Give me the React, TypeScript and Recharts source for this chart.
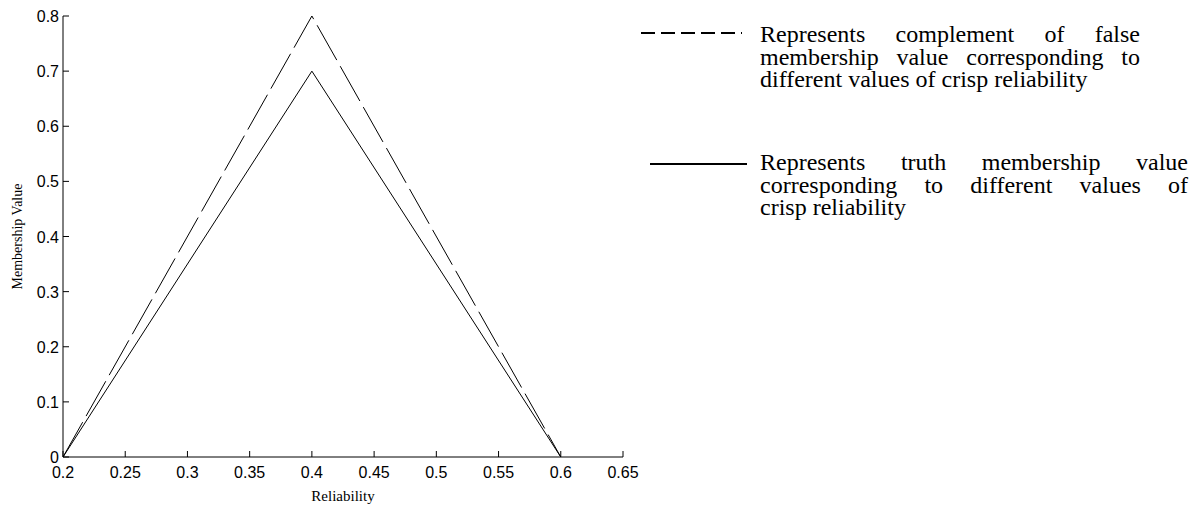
import { LineChart, Line, XAxis, YAxis } from "recharts";

const reliability = [0.2, 0.4, 0.6];
const truthValues = [0, 0.7, 0];
const falseComplementValues = [0, 0.8, 0];
const xTicks = [0.2, 0.25, 0.3, 0.35, 0.4, 0.45, 0.5, 0.55, 0.6, 0.65];
const yTicks = [0, 0.1, 0.2, 0.3, 0.4, 0.5, 0.6, 0.7, 0.8];

const falseLegendLines = [
  "Represents complement of false",
  "membership value corresponding to",
  "different values of crisp reliability",
];
const truthLegendLines = [
  "Represents truth membership value",
  "corresponding to different values of",
  "crisp reliability",
];

const truthData = reliability.map((r, i) => ({ x: r, y: truthValues[i] }));
const falseData = reliability.map((r, i) => ({ x: r, y: falseComplementValues[i] }));

const tickFont = { fontFamily: "'Liberation Sans', Arial, sans-serif", fontSize: 16, fill: "#000" };
const serif = "'Liberation Serif', 'Times New Roman', serif";

const BottomTick = (props: any) => {
  const { x, y, payload } = props;
  return (
    <g>
      <line x1={x} y1={y} x2={x} y2={y - 6} stroke="#000" />
      <text x={x} y={y + 21} textAnchor="middle" {...tickFont}>
        {payload.value}
      </text>
    </g>
  );
};

const TopTick = (props: any) => {
  const { x, y } = props;
  return <line x1={x} y1={y} x2={x} y2={y + 6} stroke="#000" />;
};

const LeftTick = (props: any) => {
  const { x, y, payload } = props;
  return (
    <g>
      <line x1={x} y1={y} x2={x + 6} y2={y} stroke="#000" />
      <text x={x - 4} y={y + 6} textAnchor="end" {...tickFont}>
        {payload.value}
      </text>
    </g>
  );
};

const RightTick = (props: any) => {
  const { x, y } = props;
  return <line x1={x} y1={y} x2={x - 6} y2={y} stroke="#000" />;
};

// rotated y-axis title
const YLabel = (props: any) => {
  const vb = props.viewBox || { x: 0, y: 16, width: 63, height: 441 };
  const cx = 17;
  const cy = vb.y + vb.height / 2;
  return (
    <text
      x={cx}
      y={cy}
      transform={`rotate(-90 ${cx} ${cy})`}
      textAnchor="middle"
      dominantBaseline="central"
      fontFamily={serif}
      fontSize={14}
      fill="#000"
    >
      Membership Value
    </text>
  );
};

const LegendBlock = ({ lines, top, width, dashed, lineLeft, lineRight, lineY }: any) => (
  <>
    <svg
      style={{ position: "absolute", left: 0, top: 0, overflow: "visible" }}
      width={1}
      height={1}
    >
      <line
        x1={lineLeft}
        x2={lineRight}
        y1={lineY}
        y2={lineY}
        stroke="#000"
        strokeWidth={2}
        strokeDasharray={dashed ? "14 6" : undefined}
      />
    </svg>
    <div
      style={{
        position: "absolute",
        left: 760,
        top,
        width,
        fontFamily: serif,
        fontSize: 24,
        lineHeight: "22.5px",
        color: "#000",
      }}
    >
      {lines.map((l: string, i: number) => (
        <div
          key={i}
          style={{
            textAlign: "justify",
            textAlignLast: i < lines.length - 1 ? "justify" : "left",
            whiteSpace: "nowrap",
          }}
        >
          {l}
        </div>
      ))}
    </div>
  </>
);

export default function App() {
  return (
    <div
      style={{
        position: "absolute",
        left: 0,
        top: 0,
        width: 1196,
        height: 508,
        background: "#fff",
      }}
    >
      <LineChart
        width={640}
        height={508}
        margin={{ top: 16, right: 17, bottom: 0, left: 0 }}
      >
        <XAxis
          dataKey="x"
          type="number"
          domain={[0.2, 0.65]}
          ticks={xTicks}
          allowDataOverflow
          height={51}
          tickSize={0}
          tickMargin={0}
          tickLine={false}
          tick={<BottomTick />}
          axisLine={{ stroke: "#000" }}
          label={{
            value: "Reliability",
            position: "insideBottom",
            offset: 7,
            fill: "#000",
            fontSize: 15,
            fontFamily: serif,
          }}
        />
        <XAxis
          xAxisId="top"
          orientation="top"
          dataKey="x"
          type="number"
          domain={[0.2, 0.65]}
          ticks={xTicks}
          height={0}
          tickSize={0}
          tickMargin={0}
          tickLine={false}
          tick={<TopTick />}
          axisLine={{ stroke: "#000" }}
        />
        <YAxis
          type="number"
          domain={[0, 0.8]}
          ticks={yTicks}
          width={63}
          tickSize={0}
          tickMargin={0}
          tickLine={false}
          tick={<LeftTick />}
          axisLine={{ stroke: "#000" }}
          label={<YLabel />}
        />
        <YAxis
          yAxisId="right"
          orientation="right"
          type="number"
          domain={[0, 0.8]}
          ticks={yTicks}
          width={0}
          tickSize={0}
          tickMargin={0}
          tickLine={false}
          tick={<RightTick />}
          axisLine={{ stroke: "#000" }}
        />
        <Line
          data={falseData}
          dataKey="y"
          type="linear"
          stroke="#000"
          strokeWidth={1}
          strokeDasharray="40 7"
          dot={false}
          activeDot={false}
          isAnimationActive={false}
        />
        <Line
          data={truthData}
          dataKey="y"
          type="linear"
          stroke="#000"
          strokeWidth={1}
          dot={false}
          activeDot={false}
          isAnimationActive={false}
        />
      </LineChart>
      <LegendBlock
        lines={falseLegendLines}
        top={23}
        width={380}
        dashed
        lineLeft={641}
        lineRight={742}
        lineY={33}
      />
      <LegendBlock
        lines={truthLegendLines}
        top={151}
        width={428}
        lineLeft={650}
        lineRight={747}
        lineY={164}
      />
    </div>
  );
}
